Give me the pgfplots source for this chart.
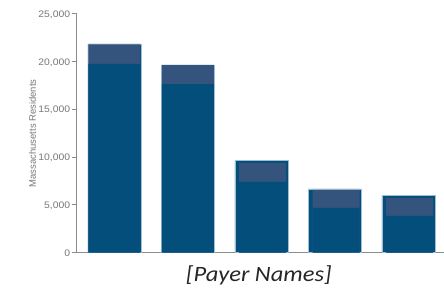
\documentclass[border=0pt]{standalone}
\usepackage{pgfplots}
\pgfplotsset{compat=1.18}
\usepackage{fontspec}
\setmainfont{Liberation Sans}
\newfontfamily\calib{Carlito}
\definecolor{barblue}{HTML}{044E7B}
\definecolor{lightrect}{HTML}{34547E}
\definecolor{baredge}{HTML}{9DBFD6}
\definecolor{axgray}{HTML}{8C8C8C}
\definecolor{txtgray}{HTML}{777777}
\begin{document}
\begin{tikzpicture}
\begin{axis}[
  scale only axis,
  width=367bp, height=239bp,
  xmin=-0.51, xmax=4.48,
  ymin=0, ymax=25000,
  axis x line*=bottom, axis y line*=left,
  axis line style={axgray, line width=0.9bp},
  xtick=\empty,
  ytick={0,5000,10000,15000,20000,25000},
  ytick align=outside,
  ytick pos=left,
  major tick length=0pt,
  scaled y ticks=false,
  /pgf/number format/.cd, 1000 sep={,}, assume math mode=true,
  /pgfplots/.cd,
  yticklabel={\smash{\pgfmathprintnumber{\tick}\hspace{1.3bp}\textcolor{axgray}{\rule[3bp]{4.6bp}{1bp}}}},
  yticklabel style={font=\fontsize{9.5}{10}\selectfont, text=txtgray, inner sep=0pt, anchor=east, yshift=-3.5bp, xscale=1.1},
  ylabel={Massachusetts Residents},
  ylabel style={font=\fontsize{9.5}{10}\selectfont, text=txtgray, yshift=-1bp},
  clip=false,
]
% full bars
\addplot[ybar, bar shift=0pt, fill=barblue, draw=baredge, line width=0.5bp, bar width=53bp] coordinates {(0,21860) (1,19680) (2,9650) (3,6700) (4,6000)};
% light rectangles, bars 1-2 (full width)
\addplot[ybar, bar shift=0pt, fill=lightrect, draw=none, bar width=52bp] coordinates {(0,21820) (1,19640)};
\addplot[ybar, bar shift=0pt, fill=barblue, draw=none, bar width=52bp] coordinates {(0,19770) (1,17650)};
% light rectangles, bars 3-5 (inset)
\addplot[ybar, bar shift=1.3bp, fill=lightrect, draw=none, bar width=47bp] coordinates {(2,9410) (3,6590) (4,5750)};
\addplot[ybar, bar shift=1.3bp, fill=barblue, draw=none, bar width=47bp] coordinates {(2,7430) (3,4710) (4,3870)};
\node[font=\calib\itshape\fontsize{22}{26}\selectfont, text=black!85, anchor=center, xscale=1.12] at (rel axis cs:0.496,-0.096) {[Payer Names]};
\end{axis}
\path[use as bounding box] (current axis.south west) ++(-77bp,-37bp) rectangle ++(444bp,290bp);
\end{tikzpicture}
\end{document}
